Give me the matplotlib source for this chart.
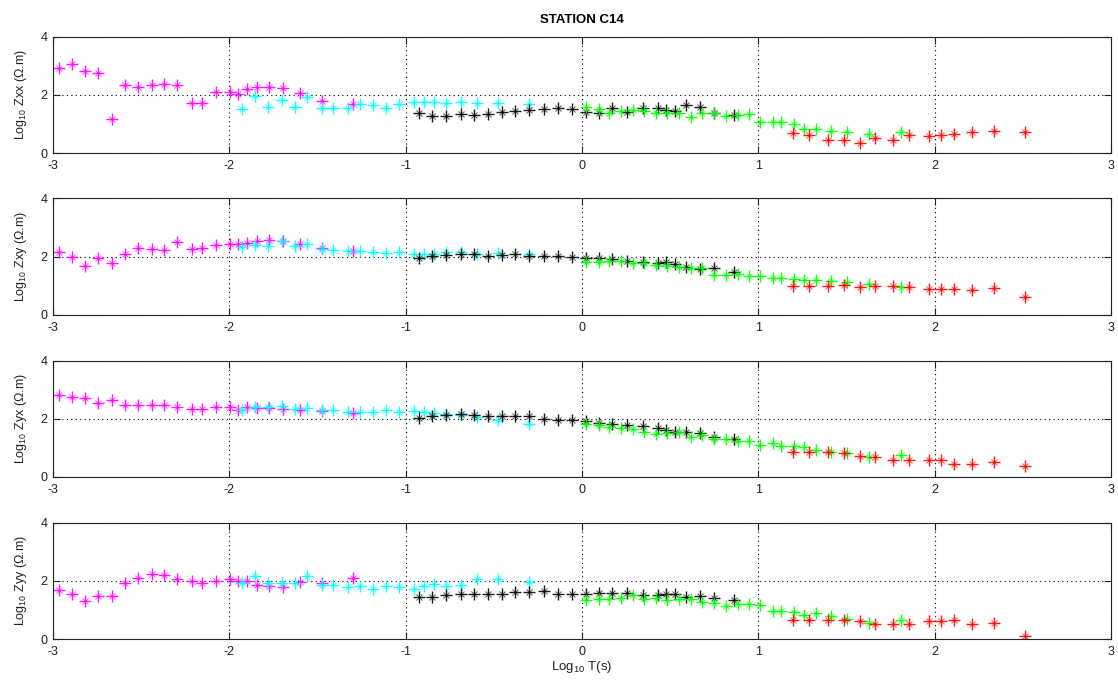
import matplotlib
matplotlib.use("Agg")
import matplotlib.pyplot as plt

plt.rcParams['font.family'] = ['Liberation Sans', 'DejaVu Sans']
plt.rcParams['mathtext.fontset'] = 'custom'
plt.rcParams['mathtext.rm'] = 'Liberation Sans'
plt.rcParams['mathtext.it'] = 'Liberation Sans'
plt.rcParams['axes.unicode_minus'] = False

# periods (log10 T) for each frequency band
mag_x = [-2.968, -2.891, -2.816, -2.743, -2.668, -2.591, -2.520, -2.439, -2.368, -2.296, -2.211,
         -2.154, -2.077, -1.994, -1.949, -1.897, -1.842, -1.775, -1.696, -1.597, -1.474, -1.298]
cyan_x = [-1.929, -1.852, -1.781, -1.704, -1.628, -1.557, -1.474, -1.413, -1.328, -1.259, -1.186,
          -1.109, -1.036, -0.951, -0.897, -0.840, -0.769, -0.688, -0.595, -0.474, -0.300]
black_x = [-0.927, -0.848, -0.769, -0.688, -0.611, -0.534, -0.453, -0.379, -0.300, -0.215, -0.138,
           -0.057, 0.020, 0.099, 0.172, 0.257, 0.344, 0.431, 0.478, 0.530, 0.591, 0.668, 0.747, 0.860]
green_x = [0.020, 0.095, 0.156, 0.221, 0.287, 0.354, 0.419, 0.484, 0.553, 0.617, 0.682, 0.747,
           0.814, 0.885, 0.945, 1.012, 1.083, 1.128, 1.204, 1.259, 1.326, 1.411, 1.502, 1.630, 1.810]
red_x = [1.194, 1.285, 1.393, 1.486, 1.577, 1.662, 1.765, 1.856, 1.968, 2.034, 2.109, 2.211, 2.336, 2.510]

# Zxx
zxx_mag = [2.92, 3.07, 2.80, 2.76, 1.16, 2.34, 2.28, 2.34, 2.37, 2.33, 1.72, 1.72, 2.11, 2.09, 2.02,
           2.19, 2.27, 2.26, 2.22, 2.06, 1.79, 1.69]
zxx_cyan = [1.51, 1.97, 1.59, 1.82, 1.59, 1.94, 1.53, 1.53, 1.53, 1.67, 1.64, 1.54, 1.69, 1.76, 1.76,
            1.76, 1.73, 1.74, 1.71, 1.72, 1.69]
zxx_black = [1.39, 1.28, 1.28, 1.35, 1.30, 1.34, 1.42, 1.45, 1.46, 1.50, 1.56, 1.50, 1.42, 1.36, 1.53,
             1.42, 1.53, 1.56, 1.48, 1.44, 1.65, 1.58, 1.37, 1.30]
zxx_green = [1.58, 1.50, 1.39, 1.44, 1.48, 1.44, 1.36, 1.38, 1.36, 1.24, 1.36, 1.39, 1.28, 1.30, 1.33,
             1.07, 1.05, 1.05, 1.01, 0.84, 0.81, 0.77, 0.73, 0.66, 0.73]
zxx_red = [0.69, 0.63, 0.46, 0.46, 0.36, 0.50, 0.46, 0.61, 0.58, 0.61, 0.66, 0.73, 0.77, 0.73]

# Zxy
zxy_mag = [2.17, 1.99, 1.69, 1.94, 1.79, 2.11, 2.29, 2.28, 2.24, 2.49, 2.26, 2.30, 2.40, 2.44, 2.44,
           2.47, 2.54, 2.57, 2.53, 2.44, 2.30, 2.19]
zxy_cyan = [2.34, 2.41, 2.36, 2.55, 2.36, 2.44, 2.26, 2.23, 2.21, 2.18, 2.17, 2.14, 2.17, 2.09, 2.11,
            2.10, 2.15, 2.17, 2.09, 2.14, 2.11]
zxy_black = [1.94, 2.01, 2.05, 2.11, 2.09, 2.03, 2.07, 2.09, 2.02, 2.02, 2.02, 1.99, 1.97, 1.97, 1.92,
             1.87, 1.81, 1.78, 1.82, 1.75, 1.64, 1.58, 1.63, 1.48]
zxy_green = [1.83, 1.83, 1.86, 1.86, 1.77, 1.77, 1.72, 1.68, 1.66, 1.60, 1.61, 1.38, 1.38, 1.40, 1.35,
             1.35, 1.28, 1.27, 1.24, 1.20, 1.20, 1.17, 1.13, 1.08, 0.95]
zxy_red = [0.98, 0.98, 0.98, 1.03, 0.95, 0.98, 0.98, 0.95, 0.88, 0.88, 0.88, 0.85, 0.92, 0.62]

# Zyx
zyx_mag = [2.80, 2.74, 2.70, 2.54, 2.66, 2.47, 2.47, 2.47, 2.47, 2.39, 2.34, 2.34, 2.39, 2.39, 2.31,
           2.40, 2.37, 2.36, 2.34, 2.31, 2.25, 2.20]
zyx_cyan = [2.29, 2.40, 2.40, 2.43, 2.33, 2.36, 2.29, 2.29, 2.23, 2.24, 2.24, 2.29, 2.24, 2.25, 2.23,
            2.20, 2.16, 2.14, 2.06, 1.97, 1.82]
zyx_black = [2.01, 2.08, 2.13, 2.15, 2.14, 2.08, 2.11, 2.08, 2.10, 2.00, 1.97, 1.97, 1.91, 1.85, 1.82,
             1.78, 1.76, 1.68, 1.62, 1.56, 1.54, 1.51, 1.39, 1.29]
zyx_green = [1.82, 1.78, 1.71, 1.68, 1.64, 1.56, 1.47, 1.51, 1.53, 1.39, 1.45, 1.32, 1.29, 1.24, 1.24,
             1.10, 1.16, 1.05, 1.05, 1.02, 0.93, 0.87, 0.82, 0.70, 0.76]
zyx_red = [0.85, 0.87, 0.87, 0.82, 0.72, 0.67, 0.59, 0.59, 0.59, 0.59, 0.45, 0.45, 0.51, 0.37]

# Zyy
zyy_mag = [1.70, 1.56, 1.30, 1.47, 1.47, 1.92, 2.10, 2.24, 2.20, 2.07, 1.99, 1.92, 1.99, 2.07, 1.99,
           1.99, 1.87, 1.82, 1.78, 1.95, 1.91, 2.10]
zyy_cyan = [1.91, 2.16, 1.93, 1.93, 1.93, 2.15, 1.87, 1.85, 1.78, 1.82, 1.72, 1.82, 1.78, 1.72, 1.82,
            1.90, 1.82, 1.87, 2.07, 2.05, 1.95]
zyy_black = [1.44, 1.44, 1.50, 1.53, 1.53, 1.56, 1.53, 1.61, 1.61, 1.64, 1.56, 1.56, 1.53, 1.59, 1.59,
             1.59, 1.50, 1.50, 1.53, 1.53, 1.45, 1.47, 1.42, 1.34]
zyy_green = [1.34, 1.36, 1.39, 1.42, 1.51, 1.39, 1.42, 1.34, 1.39, 1.36, 1.27, 1.22, 1.15, 1.21, 1.21,
             1.18, 0.96, 0.96, 0.93, 0.84, 0.88, 0.79, 0.70, 0.56, 0.65]
zyy_red = [0.64, 0.64, 0.64, 0.64, 0.61, 0.50, 0.50, 0.50, 0.61, 0.61, 0.64, 0.50, 0.55, 0.09]

names = ['Zxx', 'Zxy', 'Zyx', 'Zyy']
panels = [
    [zxx_mag, zxx_cyan, zxx_black, zxx_green, zxx_red],
    [zxy_mag, zxy_cyan, zxy_black, zxy_green, zxy_red],
    [zyx_mag, zyx_cyan, zyx_black, zyx_green, zyx_red],
    [zyy_mag, zyy_cyan, zyy_black, zyy_green, zyy_red],
]
xs = [mag_x, cyan_x, black_x, green_x, red_x]
colors = ['#ff00ff', '#00ffff', '#000000', '#00ff00', '#ff0000']

fig = plt.figure(figsize=(11.18, 6.88), dpi=100)
bottoms = [0.7776, 0.5422, 0.3067, 0.0712]

for i in range(4):
    ax = fig.add_axes([0.0474, bottoms[i], 0.9463, 0.1693])
    for x, y, c in zip(xs, panels[i], colors):
        # MATLAB style '*' marker: plus with short diagonals
        ax.plot(x, y, linestyle='none', marker='+', markersize=8,
                markeredgewidth=1.0, color=c, alpha=0.9)
        ax.plot(x, y, linestyle='none', marker='x', markersize=5,
                markeredgewidth=0.8, color=c, alpha=0.6)
    ax.set_xlim(-3, 3)
    ax.set_ylim(0, 4)
    ax.set_xticks([-3, -2, -1, 0, 1, 2, 3])
    ax.set_yticks([0, 2, 4])
    ax.tick_params(direction='in', top=True, right=True, length=5, width=0.8,
                   labelsize=9, colors='#222222')
    ax.tick_params(axis='x', pad=5)
    ax.tick_params(axis='y', pad=4)
    ax.grid(True, linestyle=(0, (1, 3)), color='black', linewidth=0.8)
    for s in ax.spines.values():
        s.set_linewidth(0.8)
        s.set_color('#222222')
    ax.set_ylabel('Log$_{10}$ ' + names[i] + ' (\u03a9.m)', fontsize=9, labelpad=8, color='#222222')
    if i == 0:
        ax.set_title('STATION C14', fontsize=9.5, fontweight='bold', pad=10)
    if i == 3:
        ax.set_xlabel('Log$_{10}$ T(s)', fontsize=9.5, labelpad=1, color='#222222')

plt.savefig('out.png', dpi=100)
